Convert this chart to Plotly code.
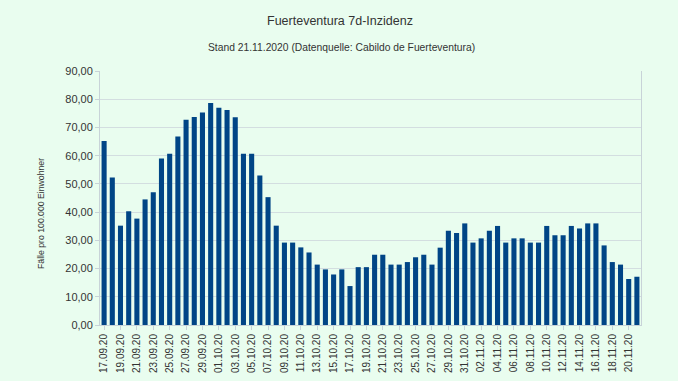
import plotly.graph_objects as go
import datetime as dt

start = dt.date(2020, 9, 17)
values = [65.2, 52.3, 35.2, 40.3, 37.7, 44.5, 47.0, 59.0, 60.7, 66.8,
          72.7, 73.7, 75.3, 78.7, 77.0, 76.2, 73.6, 60.7, 60.7, 53.0,
          45.3, 35.2, 29.2, 29.2, 27.5, 25.7, 21.4, 19.7, 17.9, 19.7,
          13.8, 20.5, 20.5, 24.9, 24.9, 21.4, 21.4, 22.3, 24.0, 24.9,
          21.4, 27.4, 33.4, 32.6, 36.0, 29.2, 30.7, 33.4, 35.1, 29.2,
          30.7, 30.7, 29.2, 29.2, 35.1, 31.8, 31.8, 35.1, 34.2, 36.0,
          36.0, 28.2, 22.3, 21.4, 16.3, 17.1]
dates = [(start + dt.timedelta(days=i)).strftime("%d.%m.%y") for i in range(len(values))]
tick_labels = dates[::2]

title = "Fuerteventura 7d-Inzidenz"
subtitle = "Stand 21.11.2020 (Datenquelle: Cabildo de Fuerteventura)"
y_title = "Fälle pro 100.000 Einwohner"

bg = "#e9fdef"
fig = go.Figure(go.Bar(x=dates, y=values, marker_color="#004586", marker_line_width=0))

L, R, T, B = 100, 37, 71, 56
W, H = 678, 381
plot_h = H - T - B
plot_w = W - L - R

def px_x(p):
    return (p - L) / plot_w

def px_y(p):
    return (H - B - p) / plot_h

fig.update_layout(
    width=W, height=H,
    paper_bgcolor=bg, plot_bgcolor=bg,
    margin=dict(l=L, r=R, t=T, b=B, autoexpand=False),
    separators=",.",
    bargap=0.38,
    showlegend=False,
    font=dict(family="Liberation Sans, Arial, sans-serif", color="#333333"),
    annotations=[
        dict(text=title, x=px_x(340), xref="paper", y=px_y(21), yref="paper",
             showarrow=False, font=dict(size=12.5, color="#333333"), yanchor="middle"),
        dict(text=subtitle, x=px_x(341), xref="paper", y=px_y(48), yref="paper",
             showarrow=False, font=dict(size=10.3, color="#333333"), yanchor="middle"),
        dict(text=y_title, x=px_x(41), xref="paper", y=px_y(214), yref="paper",
             showarrow=False, textangle=-90, font=dict(size=8.7, color="#333333"),
             xanchor="center", yanchor="middle"),
    ],
)

fig.update_xaxes(
    type="category", categoryorder="array", categoryarray=dates,
    tickmode="array", tickvals=tick_labels, ticktext=tick_labels,
    tickangle=-90, tickfont=dict(size=10, color="#333333"),
    ticks="outside", ticklen=4, tickcolor="#c8d3d8",
    showline=True, linecolor="#c8d3d8", linewidth=1,
    showgrid=False, automargin=False,
)
fig.update_yaxes(
    range=[0, 90], dtick=10, tickformat=".2f",
    tickfont=dict(size=11, color="#333333"),
    ticks="outside", ticklen=4, tickcolor="#c8d3d8",
    showgrid=True, gridcolor="#d3dee0", gridwidth=1,
    showline=True, linecolor="#c8d3d8", linewidth=1, mirror=True,
    zeroline=False, automargin=False,
)

fig.write_html(
    "out.html",
    config={"displayModeBar": False},
    post_script="document.body.style.margin='0';document.body.style.background='%s';" % bg,
)
